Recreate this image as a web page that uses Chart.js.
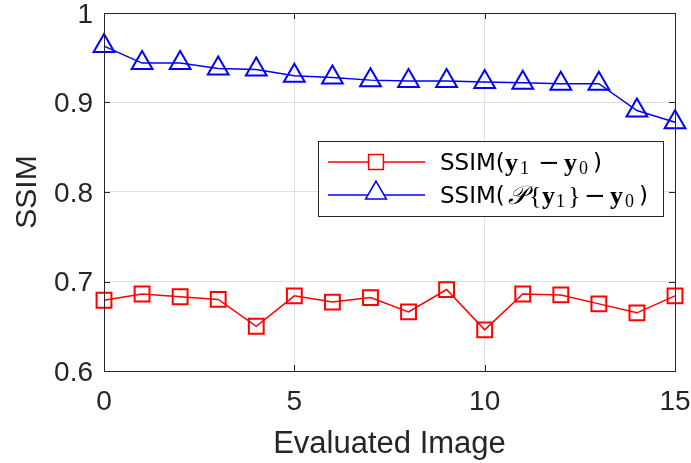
<!DOCTYPE html>
<html>
<head>
<meta charset="utf-8">
<script src="https://cdn.jsdelivr.net/npm/chart.js@4.4.1/dist/chart.umd.min.js"></script>
<style>
  html, body { margin: 0; padding: 0; background: #fff; }
  #wrap { width: 691px; height: 463px; }
</style>
</head>
<body>
<div id="wrap"><canvas id="chart" width="691" height="463"></canvas></div>
<script>
// x axis: evaluated image index
var images = [0, 1, 2, 3, 4, 5, 6, 7, 8, 9, 10, 11, 12, 13, 14, 15];
// SSIM(y1 - y0)
var ssimDiff = [0.679, 0.686, 0.683, 0.680, 0.650, 0.684, 0.677, 0.682, 0.666, 0.691, 0.646, 0.686, 0.685, 0.675, 0.665, 0.684];
// SSIM(P{y1} - y0)
var ssimProj = [0.963, 0.944, 0.944, 0.938, 0.937, 0.930, 0.928, 0.925, 0.924, 0.924, 0.923, 0.922, 0.921, 0.921, 0.891, 0.878];
var xTicks = [0, 5, 10, 15];
var yTicks = [0.6, 0.7, 0.8, 0.9, 1];

var axisColor = '#262626';
var sans = '"Liberation Sans", Arial, sans-serif';

function toPoints(vals) {
	return images.map(function (x, i) { return {x: x, y: vals[i]}; });
}

//안쪽 눈금 + 테두리
var innerTicks = {
	id: 'innerTicks',
	afterDatasetsDraw: function (chart) {
		var ctx = chart.ctx, a = chart.chartArea;
		var xs = chart.scales.x, ys = chart.scales.y;
		var len = 6;
		ctx.save();
		ctx.strokeStyle = axisColor;
		ctx.lineWidth = 1;
		ctx.beginPath();
		xTicks.forEach(function (v) {
			var px = Math.round(xs.getPixelForValue(v)) + 0.5;
			ctx.moveTo(px, a.bottom); ctx.lineTo(px, a.bottom - len);
			ctx.moveTo(px, a.top); ctx.lineTo(px, a.top + len);
		});
		yTicks.forEach(function (v) {
			var py = Math.round(ys.getPixelForValue(v)) + 0.5;
			ctx.moveTo(a.left, py); ctx.lineTo(a.left + len, py);
			ctx.moveTo(a.right, py); ctx.lineTo(a.right - len, py);
		});
		ctx.stroke();
		ctx.strokeRect(Math.round(a.left) + 0.5, Math.round(a.top) + 0.5, Math.round(a.right - a.left), Math.round(a.bottom - a.top));
		ctx.restore();
	}
};

//수식 범례
function drawSegs(ctx, y, segs) {
	segs.forEach(function (s) {
		ctx.font = s.font;
		ctx.fillText(s.t, s.x, y + (s.dy || 0));
	});
}
var mathLegend = {
	id: 'mathLegend',
	afterDraw: function (chart) {
		var ctx = chart.ctx;
		var bx = 318, by = 141, bw = 345, bh = 75;
		var lt = '23px "DejaVu Sans", sans-serif';
		var yb = 'bold 26px "Liberation Serif", "DejaVu Serif", serif';
		var sub = '18px "Liberation Serif", "DejaVu Serif", serif';
		var rm = '26px "Liberation Serif", "DejaVu Serif", serif';
		var minus = '26px "DejaVu Serif", serif';
		var cal = 'italic 26px "DejaVu Serif", serif';
		ctx.save();
		ctx.fillStyle = '#fff';
		ctx.fillRect(bx, by, bw, bh);
		ctx.strokeStyle = axisColor;
		ctx.lineWidth = 1;
		ctx.strokeRect(bx + 0.5, by + 0.5, bw, bh);

		var rows = [
			{y: 162, color: '#ff0000', style: 'rect', r: 10.5},
			{y: 195, color: '#0000ff', style: 'triangle', r: 12}
		];
		rows.forEach(function (row) {
			ctx.strokeStyle = row.color;
			ctx.lineWidth = 1.5;
			ctx.beginPath();
			ctx.moveTo(328, row.y); ctx.lineTo(425, row.y);
			ctx.stroke();
			Chart.helpers.drawPoint(ctx, {pointStyle: row.style, radius: row.r, borderWidth: 2, rotation: 0}, 376, row.style === 'triangle' ? row.y - 2 : row.y);
		});

		ctx.fillStyle = '#000';
		ctx.textBaseline = 'middle';
		drawSegs(ctx, 164, [
			{t: 'SSIM(', font: lt, x: 440},
			{t: 'y', font: yb, x: 505},
			{t: '1', font: sub, x: 520, dy: 5},
			{t: '\u2212', font: minus, x: 538},
			{t: 'y', font: yb, x: 564},
			{t: '0', font: sub, x: 579, dy: 5},
			{t: ')', font: lt, x: 593}
		]);
		drawSegs(ctx, 197, [
			{t: 'SSIM(', font: lt, x: 440},
			{t: '\u{1D4AB}', font: cal, x: 508},
			{t: '{', font: rm, x: 529},
			{t: 'y', font: yb, x: 542},
			{t: '1', font: sub, x: 556, dy: 5},
			{t: '}', font: rm, x: 568},
			{t: '\u2212', font: minus, x: 584},
			{t: 'y', font: yb, x: 610},
			{t: '0', font: sub, x: 625, dy: 5},
			{t: ')', font: lt, x: 639}
		]);
		ctx.restore();
	}
};

var chart = new Chart(document.getElementById('chart'), {
	type: 'line',
	data: {
		datasets: [
			{
				data: toPoints(ssimDiff),
				borderColor: '#ff0000',
				backgroundColor: 'rgba(0,0,0,0)',
				borderWidth: 1.5,
				pointStyle: 'rect',
				pointRadius: 10.5,
				pointBorderWidth: 2,
				pointBackgroundColor: 'rgba(0,0,0,0)',
				tension: 0
			},
			{
				data: toPoints(ssimProj),
				borderColor: '#0000ff',
				backgroundColor: 'rgba(0,0,0,0)',
				borderWidth: 1.5,
				pointStyle: 'triangle',
				pointRadius: 12,
				pointBorderWidth: 2,
				pointBackgroundColor: 'rgba(0,0,0,0)',
				tension: 0
			}
		]
	},
	options: {
		responsive: false,
		animation: false,
		clip: false,
		layout: {autoPadding: false, padding: {left: 0, right: 16, top: 13, bottom: 0}},
		plugins: {legend: {display: false}, tooltip: {enabled: false}},
		scales: {
			x: {
				type: 'linear', min: 0, max: 15,
				afterFit: function (s) { s.height = 92; s.paddingLeft = 0; s.paddingRight = 0; },
				afterBuildTicks: function (s) { s.ticks = xTicks.map(function (v) { return {value: v}; }); },
				grid: {color: '#e0e0e0', drawTicks: false},
				border: {display: false},
				ticks: {color: axisColor, font: {family: sans, size: 28}, padding: 14, maxRotation: 0},
				title: {display: true, text: 'Evaluated Image', color: axisColor, font: {family: sans, size: 31}, padding: {top: 0, bottom: 0}}
			},
			y: {
				min: 0.6, max: 1,
				afterFit: function (s) { s.width = 104; s.paddingTop = 0; s.paddingBottom = 0; },
				afterBuildTicks: function (s) { s.ticks = yTicks.map(function (v) { return {value: v}; }); },
				grid: {color: '#e0e0e0', drawTicks: false},
				border: {display: false},
				ticks: {color: axisColor, font: {family: sans, size: 28}, padding: 11, labelOffset: 2,
					callback: function (v) { return String(Math.round(v * 10) / 10); }},
				title: {display: true, text: 'SSIM', color: axisColor, font: {family: sans, size: 30}, padding: {top: 10, bottom: 0}}
			}
		}
	},
	plugins: [innerTicks, mathLegend]
});
</script>
</body>
</html>
